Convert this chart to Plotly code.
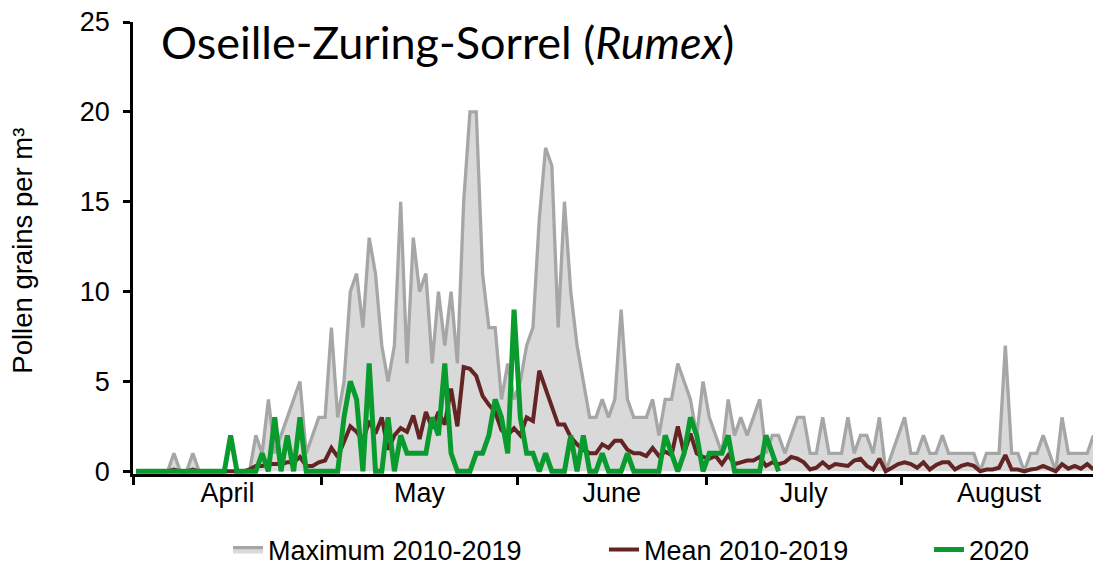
import plotly.graph_objects as go
import pandas as pd

# Daily values, 1 April – 31 August (153 days)
dates = pd.date_range("2020-04-01 12:00", periods=153, freq="D")

max_2010_2019 = [
    0, 0, 0, 0, 0, 0, 1, 0, 0, 1,            # Apr 1-10
    0, 0, 0, 0, 0, 0, 0, 0, 0, 2,            # Apr 11-20
    1, 4, 1, 2, 3, 4, 5, 1, 2, 3,            # Apr 21-30
    3, 8, 3, 5, 10, 11, 8, 13, 11, 7,        # May 1-10
    5, 7, 15, 6, 13, 10, 11, 6, 10, 7,       # May 11-20
    10, 6, 15, 20, 20, 11, 8, 8, 4, 6, 4,    # May 21-31
    5, 7, 8, 14, 18, 17, 8, 15, 10, 7,       # Jun 1-10
    5, 3, 3, 4, 3, 4, 9, 4, 3, 3,            # Jun 11-20
    3, 4, 2, 4, 4, 6, 5, 4, 2, 5,            # Jun 21-30
    3, 2, 1, 4, 2, 3, 2, 3, 4, 1,            # Jul 1-10
    2, 2, 1, 2, 3, 3, 1, 1, 3, 1,            # Jul 11-20
    1, 1, 3, 1, 2, 2, 1, 3, 0, 1, 2,         # Jul 21-31
    3, 1, 1, 2, 1, 1, 2, 1, 1, 1,            # Aug 1-10
    1, 1, 0, 1, 1, 1, 7, 1, 1, 0,            # Aug 11-20
    1, 1, 2, 1, 0, 3, 1, 1, 1, 1, 2,         # Aug 21-31
]

mean_2010_2019 = [
    0, 0, 0, 0, 0, 0, 0.1, 0, 0, 0.1,
    0, 0, 0, 0, 0, 0, 0, 0, 0.1, 0.3,
    0.3, 0.4, 0.4, 0.4, 0.5, 0.5, 0.8, 0.3, 0.3, 0.5,
    0.6, 1.3, 0.8, 1.7, 2.5, 2.2, 1.7, 2.8, 2.1, 3.0,
    1.2, 2.0, 2.4, 2.2, 3.1, 1.8, 3.3, 2.4, 3.3, 2.6,
    4.6, 2.5, 5.8, 5.7, 5.3, 4.2, 3.7, 3.3, 2.3, 2.0, 2.4,
    2.0, 3.0, 2.8, 5.6, 4.6, 3.6, 2.6, 2.6, 1.9, 1.5,
    1.2, 1.0, 1.0, 1.5, 1.3, 1.7, 1.7, 1.2, 1.0, 1.0,
    0.85, 1.3, 0.85, 1.1, 0.9, 2.5, 1.0, 2.1, 1.0, 0.8,
    0.7, 0.85, 0.4, 0.9, 0.4, 0.5, 0.6, 0.6, 0.8, 0.3,
    0.5, 0.4, 0.5, 0.8, 0.7, 0.5, 0.1, 0.2, 0.5, 0.2,
    0.4, 0.35, 0.3, 0.6, 0.7, 0.3, 0.1, 0.7, 0.0, 0.2, 0.4,
    0.5, 0.4, 0.2, 0.5, 0.1, 0.35, 0.5, 0.5, 0.1, 0.3,
    0.4, 0.3, 0.0, 0.1, 0.1, 0.2, 0.9, 0.1, 0.1, 0.0,
    0.1, 0.15, 0.3, 0.15, 0.0, 0.4, 0.15, 0.3, 0.15, 0.4, 0.1,
]

season_2020 = [
    0, 0, 0, 0, 0, 0, 0, 0, 0, 0,
    0, 0, 0, 0, 0, 2, 0, 0, 0, 0,
    1, 0, 3, 0, 2, 0, 3, 0, 0, 0,
    0, 0, 0, 3, 5, 4, 0, 6, 0, 0,
    3, 0, 2, 1, 1, 1, 1, 3, 2, 6,
    1, 0, 0, 0, 1, 1, 2, 4, 3, 1, 9,
    3, 1, 1, 0, 1, 0, 0, 0, 2, 0,
    2, 0, 0, 1, 0, 0, 0, 1, 0, 0,
    0, 0, 0, 2, 1, 0, 1, 3, 2, 0,
    1, 1, 1, 2, 0, 0, 0, 0, 0, 2,
    1, 0,
] + [None] * 50

fig = go.Figure()
fig.add_trace(go.Scatter(
    x=dates, y=max_2010_2019, name="Maximum 2010-2019", mode="lines",
    fill="tozeroy", fillcolor="#D9D9D9",
    line=dict(color="#A6A6A6", width=3.3), legend="legend"))
fig.add_trace(go.Scatter(
    x=dates, y=mean_2010_2019, name="Mean 2010-2019", mode="lines",
    line=dict(color="#632523", width=4), legend="legend2"))
fig.add_trace(go.Scatter(
    x=dates, y=season_2020, name="2020", mode="lines",
    line=dict(color="#0A9B2E", width=5), legend="legend3"))

tick_font = dict(family="Liberation Sans, Arial, sans-serif", size=27, color="black")
leg_font = dict(family="Liberation Sans, Arial, sans-serif", size=27, color="black")


def leg(xpx):
    return dict(orientation="h", xref="container", yref="container",
                x=xpx / 1093, y=1 - 550 / 565, xanchor="left", yanchor="middle",
                font=leg_font, bgcolor="rgba(0,0,0,0)", borderwidth=0)


fig.update_layout(
    width=1093, height=565,
    showlegend=True,
    margin=dict(l=133, r=0, t=22, b=91, autoexpand=False),
    paper_bgcolor="white", plot_bgcolor="white",
    xaxis=dict(
        type="date",
        range=["2020-04-01 00:00", "2020-08-31 10:00"],
        tick0="2020-04-01", dtick="M1", ticklabelmode="period", tickformat="%B",
        ticks="outside", ticklen=8, tickwidth=2.5, tickcolor="black",
        showline=True, linewidth=2.5, linecolor="black",
        showgrid=False, zeroline=False, tickfont=tick_font, automargin=False,
        ticklabelstandoff=-15,
    ),
    yaxis=dict(
        range=[-0.15, 25], tickvals=[0, 5, 10, 15, 20, 25],
        ticks="outside", ticklen=7, tickwidth=2.5, tickcolor="black",
        showline=True, linewidth=2.5, linecolor="black",
        showgrid=False, zeroline=False, tickfont=tick_font,
        ticklabelstandoff=8, automargin=False,
    ),
    legend=leg(228),
    legend2=leg(604),
    legend3=leg(929),
    annotations=[
        dict(text="Oseille-Zuring-Sorrel (<i>Rumex</i>)", xref="paper", yref="paper",
             x=0.027, y=0.955, xanchor="left", yanchor="middle", showarrow=False,
             font=dict(family="Lato, Open Sans, sans-serif", size=45, color="black")),
        dict(text="Pollen grains per m³", xref="paper", yref="paper",
             x=-0.1146, y=0.494, xanchor="center", yanchor="middle", textangle=-90,
             showarrow=False,
             font=dict(family="Liberation Sans, Arial, sans-serif", size=27.5, color="black")),
    ],
)

fig.write_html("out.html", config={"displayModeBar": False},
               post_script="document.body.style.margin='0px';")
